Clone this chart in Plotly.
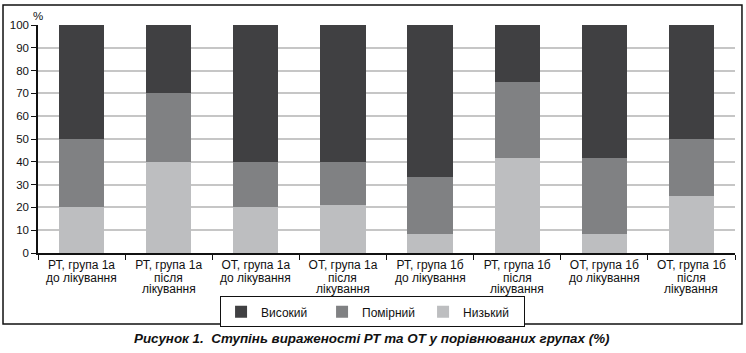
import plotly.graph_objects as go

label_line1 = ["РТ, група 1а", "РТ, група 1а", "ОТ, група 1а", "ОТ, група 1а",
               "РТ, група 1б", "РТ, група 1б", "ОТ, група 1б", "ОТ, група 1б"]
label_line2 = ["до лікування", "після", "до лікування", "після",
               "до лікування", "після", "до лікування", "після"]
label_line3 = ["", "лікування", "", "лікування", "", "лікування", "", "лікування"]
categories = [" ".join(p for p in (a, b, c) if p) for a, b, c in zip(label_line1, label_line2, label_line3)]

low = [20, 40, 20, 21, 8.3, 41.7, 8.3, 25]
medium = [30, 30, 20, 19, 25, 33.3, 33.3, 25]
high = [50, 30, 60, 60, 66.7, 25, 58.4, 50]
y_ticks = list(range(0, 101, 10))

FONT = "Liberation Sans, Arial, sans-serif"
INK = "#111111"

fig = go.Figure()
fig.add_trace(go.Bar(x=categories, y=low, name="Низький", marker=dict(color="#bdbec0", line=dict(width=0))))
fig.add_trace(go.Bar(x=categories, y=medium, name="Помірний", marker=dict(color="#808183", line=dict(width=0))))
fig.add_trace(go.Bar(x=categories, y=high, name="Високий", marker=dict(color="#404042", line=dict(width=0))))

annotations = [
    dict(text="%", xref="paper", yref="paper", x=0, y=1, xanchor="center", yanchor="bottom",
         yshift=1, showarrow=False, font=dict(family=FONT, size=11.5, color=INK)),
    dict(text="<b><i>Рисунок 1.  Ступінь вираженості РТ та ОТ у порівнюваних групах (%)</i></b>",
         xref="paper", yref="paper", x=0.479, y=-0.377, xanchor="center", yanchor="middle",
         showarrow=False, font=dict(family=FONT, size=13.4, color=INK)),
]
for cat, l2, l3 in zip(categories, label_line2, label_line3):
    annotations.append(dict(text=l2, xref="x", yref="paper", x=cat, y=0, xanchor="center",
                            yanchor="middle", yshift=-25, showarrow=False,
                            font=dict(family=FONT, size=12, color=INK)))
    if l3:
        annotations.append(dict(text=l3, xref="x", yref="paper", x=cat, y=0, xanchor="center",
                                yanchor="middle", yshift=-36, showarrow=False,
                                font=dict(family=FONT, size=12, color=INK)))

fig.update_layout(
    width=746, height=353,
    margin=dict(l=38, r=11, t=25, b=100),
    barmode="stack",
    bargap=0.48,
    plot_bgcolor="white",
    paper_bgcolor="white",
    font=dict(family=FONT, size=12, color=INK),
    showlegend=True,
    legend=dict(
        orientation="h", traceorder="reversed",
        x=0.48, xanchor="center", y=-0.19, yanchor="top",
        entrywidth=56, entrywidthmode="pixels",
        bordercolor=INK, borderwidth=1, bgcolor="white",
        font=dict(family=FONT, size=12, color=INK),
    ),
    xaxis=dict(
        type="category", showline=True, linecolor=INK, linewidth=1.5,
        tickvals=categories, ticktext=label_line1,
        ticks="outside", tickson="boundaries", ticklen=5, tickcolor=INK, tickwidth=1.2,
        showgrid=False, tickfont=dict(family=FONT, size=12, color=INK),
    ),
    yaxis=dict(
        range=[0, 100], tickvals=y_ticks, showline=True, linecolor=INK, linewidth=1.5,
        ticks="outside", ticklen=5, tickcolor=INK, tickwidth=1.2,
        showgrid=True, gridcolor="#c6c6c6", gridwidth=1.5, zeroline=False,
        tickfont=dict(family=FONT, size=11.5, color=INK),
    ),
    shapes=[dict(
        type="rect", xref="paper", yref="paper",
        x0=-0.0502, x1=1.0100, y0=-0.3114, y1=1.0877,
        line=dict(color=INK, width=1.5), fillcolor="rgba(0,0,0,0)", layer="above",
    )],
    annotations=annotations,
)

fig.write_html("out.html")
